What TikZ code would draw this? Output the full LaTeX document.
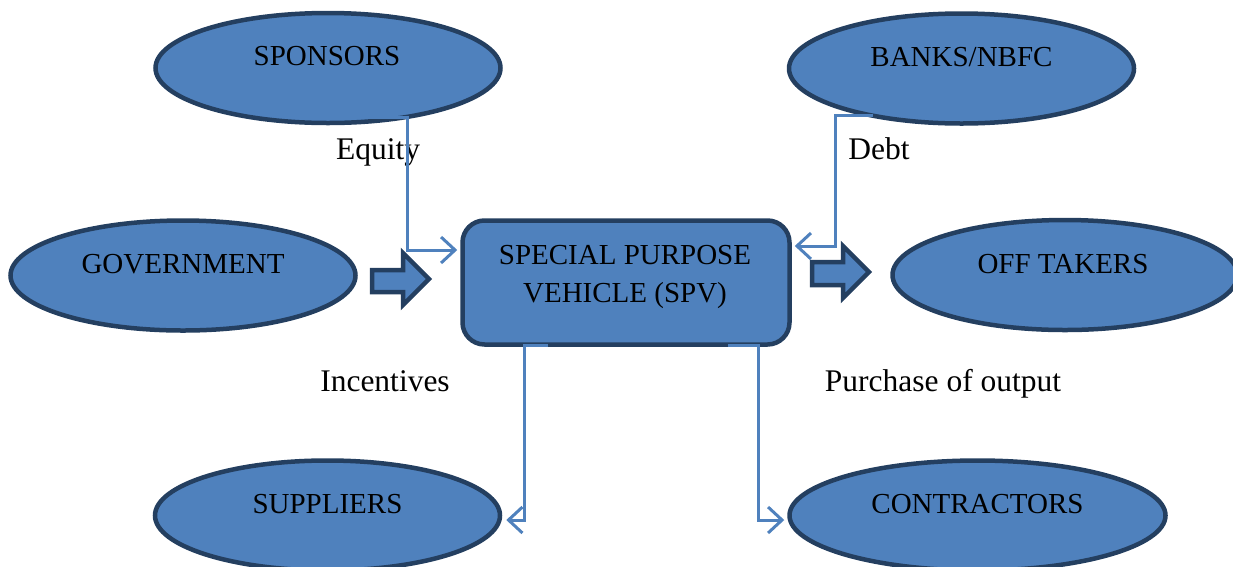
\documentclass[tikz,border=0pt]{standalone}
\usepackage{fontspec}
\setmainfont{Liberation Serif}
\usetikzlibrary{shapes.geometric,arrows.meta}
\definecolor{fillblue}{RGB}{79,129,189}
\definecolor{darkedge}{RGB}{36,63,96}
\definecolor{connblue}{RGB}{79,129,189}
\tikzset{
  ell/.style={ellipse, draw=darkedge, fill=fillblue, line width=4.5pt, inner sep=0pt, minimum width=345pt, minimum height=110pt},
  shapetxt/.style={anchor=base, inner sep=0pt, font=\fontsize{29pt}{34pt}\selectfont},
  lbltxt/.style={anchor=base, inner sep=0pt, font=\fontsize{31.5pt}{36pt}\selectfont},
  spvbox/.style={rectangle, rounded corners=22pt, draw=darkedge, fill=fillblue, line width=4.5pt, inner sep=0pt, minimum width=327pt, minimum height=124pt},
  conn/.style={draw=connblue, line width=3pt, -{Straight Barb[length=14pt,width=26pt,line width=3pt]}},
  blockarrow/.style={draw=darkedge, fill=fillblue, line width=4.5pt, line join=miter}
}
\begin{document}
\begin{tikzpicture}[x=1pt,y=-1pt]
\useasboundingbox (0,0) rectangle (1233,566);
\clip (0,0) rectangle (1233,566);

% ellipses
\node[ell] (spo) at (328,68) {};
\node[ell] (ban) at (961.5,68.5) {};
\node[ell] (gov) at (183,275.5) {};
\node[ell] (off) at (1065,275) {};
\node[ell] (sup) at (327.5,515.5) {};
\node[ell, minimum width=376pt] (con) at (977.5,515.5) {};

% SPV
\node[spvbox] (spv) at (626,282.5) {};

% texts in shapes
\node[shapetxt] (spoT) at (327,65) {SPONSORS};
\node[shapetxt] (banT) at (961.5,66) {BANKS/NBFC};
\node[shapetxt] (govT) at (183,273) {GOVERNMENT};
\node[shapetxt] (offT) at (1063,273) {OFF TAKERS};
\node[shapetxt] (supT) at (327.5,513) {SUPPLIERS};
\node[shapetxt] (conT) at (977.5,513) {CONTRACTORS};
\node[shapetxt] (spvT1) at (625,264) {SPECIAL PURPOSE};
\node[shapetxt] (spvT2) at (625,302) {VEHICLE (SPV)};

% labels
\node[lbltxt] (eqL) at (378,159) {Equity};
\node[lbltxt] (deL) at (879,159) {Debt};
\node[lbltxt] (inL) at (385,391) {Incentives};
\node[lbltxt] (puL) at (943,391) {Purchase of output};

% block arrows
\draw[blockarrow] (372,270) -- (403,270) -- (403,253) -- (429,279) -- (403,305) -- (403,292) -- (372,292) -- cycle;
\draw[blockarrow] (812,262) -- (843,262) -- (843,246) -- (869,272) -- (843,298) -- (843,285) -- (812,285) -- cycle;

% connectors
\coordinate (eqA) at (355,117);
\coordinate (eqB) at (407,250);
\draw[conn, shorten >=3pt] (eqA) -| (eqB) -- (eqB -| spv.west);

\coordinate (dA) at (873,115);
\coordinate (dB) at (835,246);
\draw[conn, shorten >=3pt] (dA) -| (dB) -- (dB -| spv.east);

\coordinate (sA) at (548,345);
\coordinate (sB) at (524,520);
\draw[conn, shorten >=4pt] (sA) -| (sB) -- (sB -| sup.east);

\coordinate (cA) at (728,345);
\coordinate (cB) at (758,520);
\draw[conn, shorten >=3pt] (cA) -| (cB) -- (cB -| con.west);
\end{tikzpicture}
\end{document}
